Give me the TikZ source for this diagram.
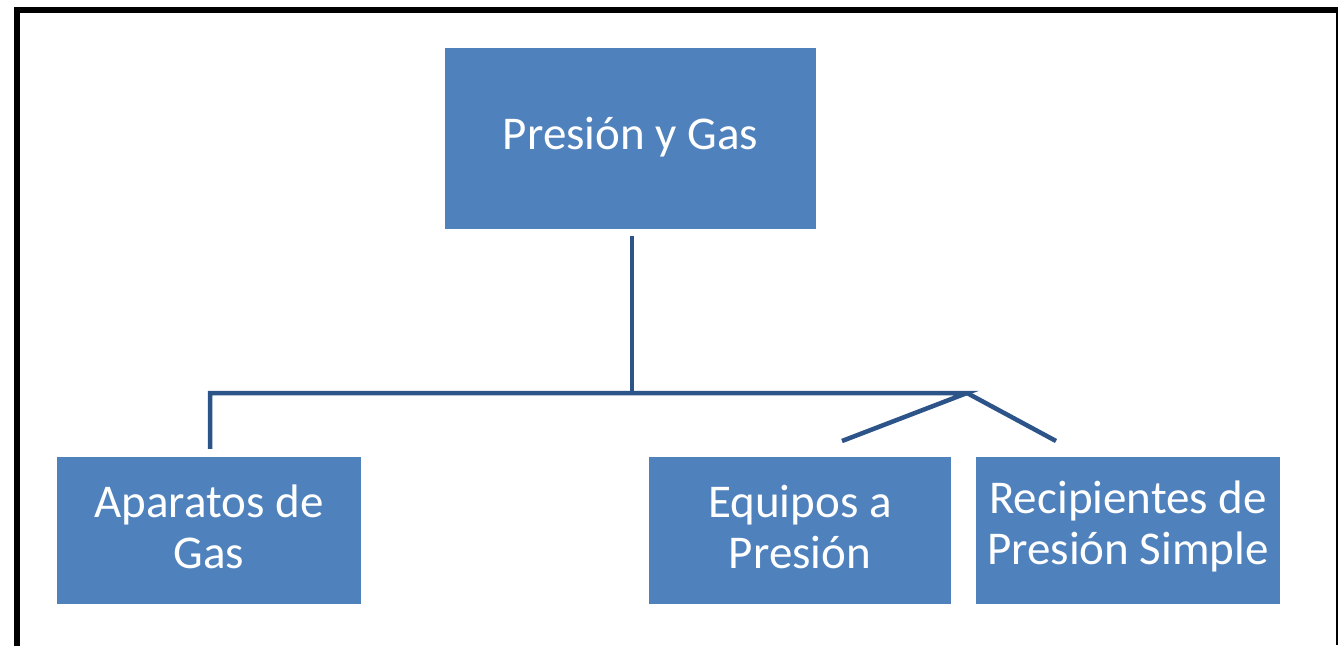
\documentclass[tikz,border=0pt]{standalone}
\usepackage{fontspec}
\setmainfont{Carlito}
\definecolor{boxblue}{HTML}{4F81BD}
\definecolor{linkblue}{HTML}{2C5488}
\begin{document}
\begin{tikzpicture}[x=1pt,y=-1pt,
  box/.style={fill=boxblue,draw=none,inner sep=0pt},
  lbl/.style={text=white,font=\fontsize{47}{51}\selectfont,align=center,inner sep=0pt},
  link/.style={draw=linkblue,line width=4.5pt}]
\useasboundingbox (0,0) rectangle (1338,645);
\fill[white] (0,0) rectangle (1338,645);
% frame
\draw[line width=6pt,line cap=rect] (17,645) -- (17,9.5) -- (1336,9.5);
\draw[line width=2pt] (1337,9.5) -- (1337,645);
% boxes
\node[box,minimum width=371pt,minimum height=181pt] (top) at (630.5,138.5) {};
\node[box,minimum width=304pt,minimum height=147pt] (apar) at (209,530.5) {};
\node[box,minimum width=302pt,minimum height=147pt] (equi) at (800,530.5) {};
\node[box,minimum width=304pt,minimum height=147pt] (reci) at (1128,530.5) {};
% labels
\node[lbl] (topt) at ([yshift=1pt]top.center) {Presión y Gas};
\node[lbl] (apart) at ([yshift=4pt]apar.center) {Aparatos de\\Gas};
\node[lbl] (equit) at ([yshift=4pt]equi.center) {Equipos a\\Presión};
\node[lbl] (recit) at ([yshift=4pt]reci.center) {Recipientes de\\Presión Simple};
% connectors
\coordinate (hub) at (632,393);
\coordinate (apex) at (967,393);
\coordinate (lcorner) at (210,393);
\coordinate (eend) at (842,441);
\coordinate (rend) at (1056,441);
\draw[link] ([yshift=-7pt]top.south -| hub) -- (hub);
\draw[link,line join=miter] ([yshift=8pt]apar.north -| lcorner) -- (lcorner) -- (apex) -- (eend);
\draw[link] (apex) -- (rend);
\end{tikzpicture}
\end{document}
